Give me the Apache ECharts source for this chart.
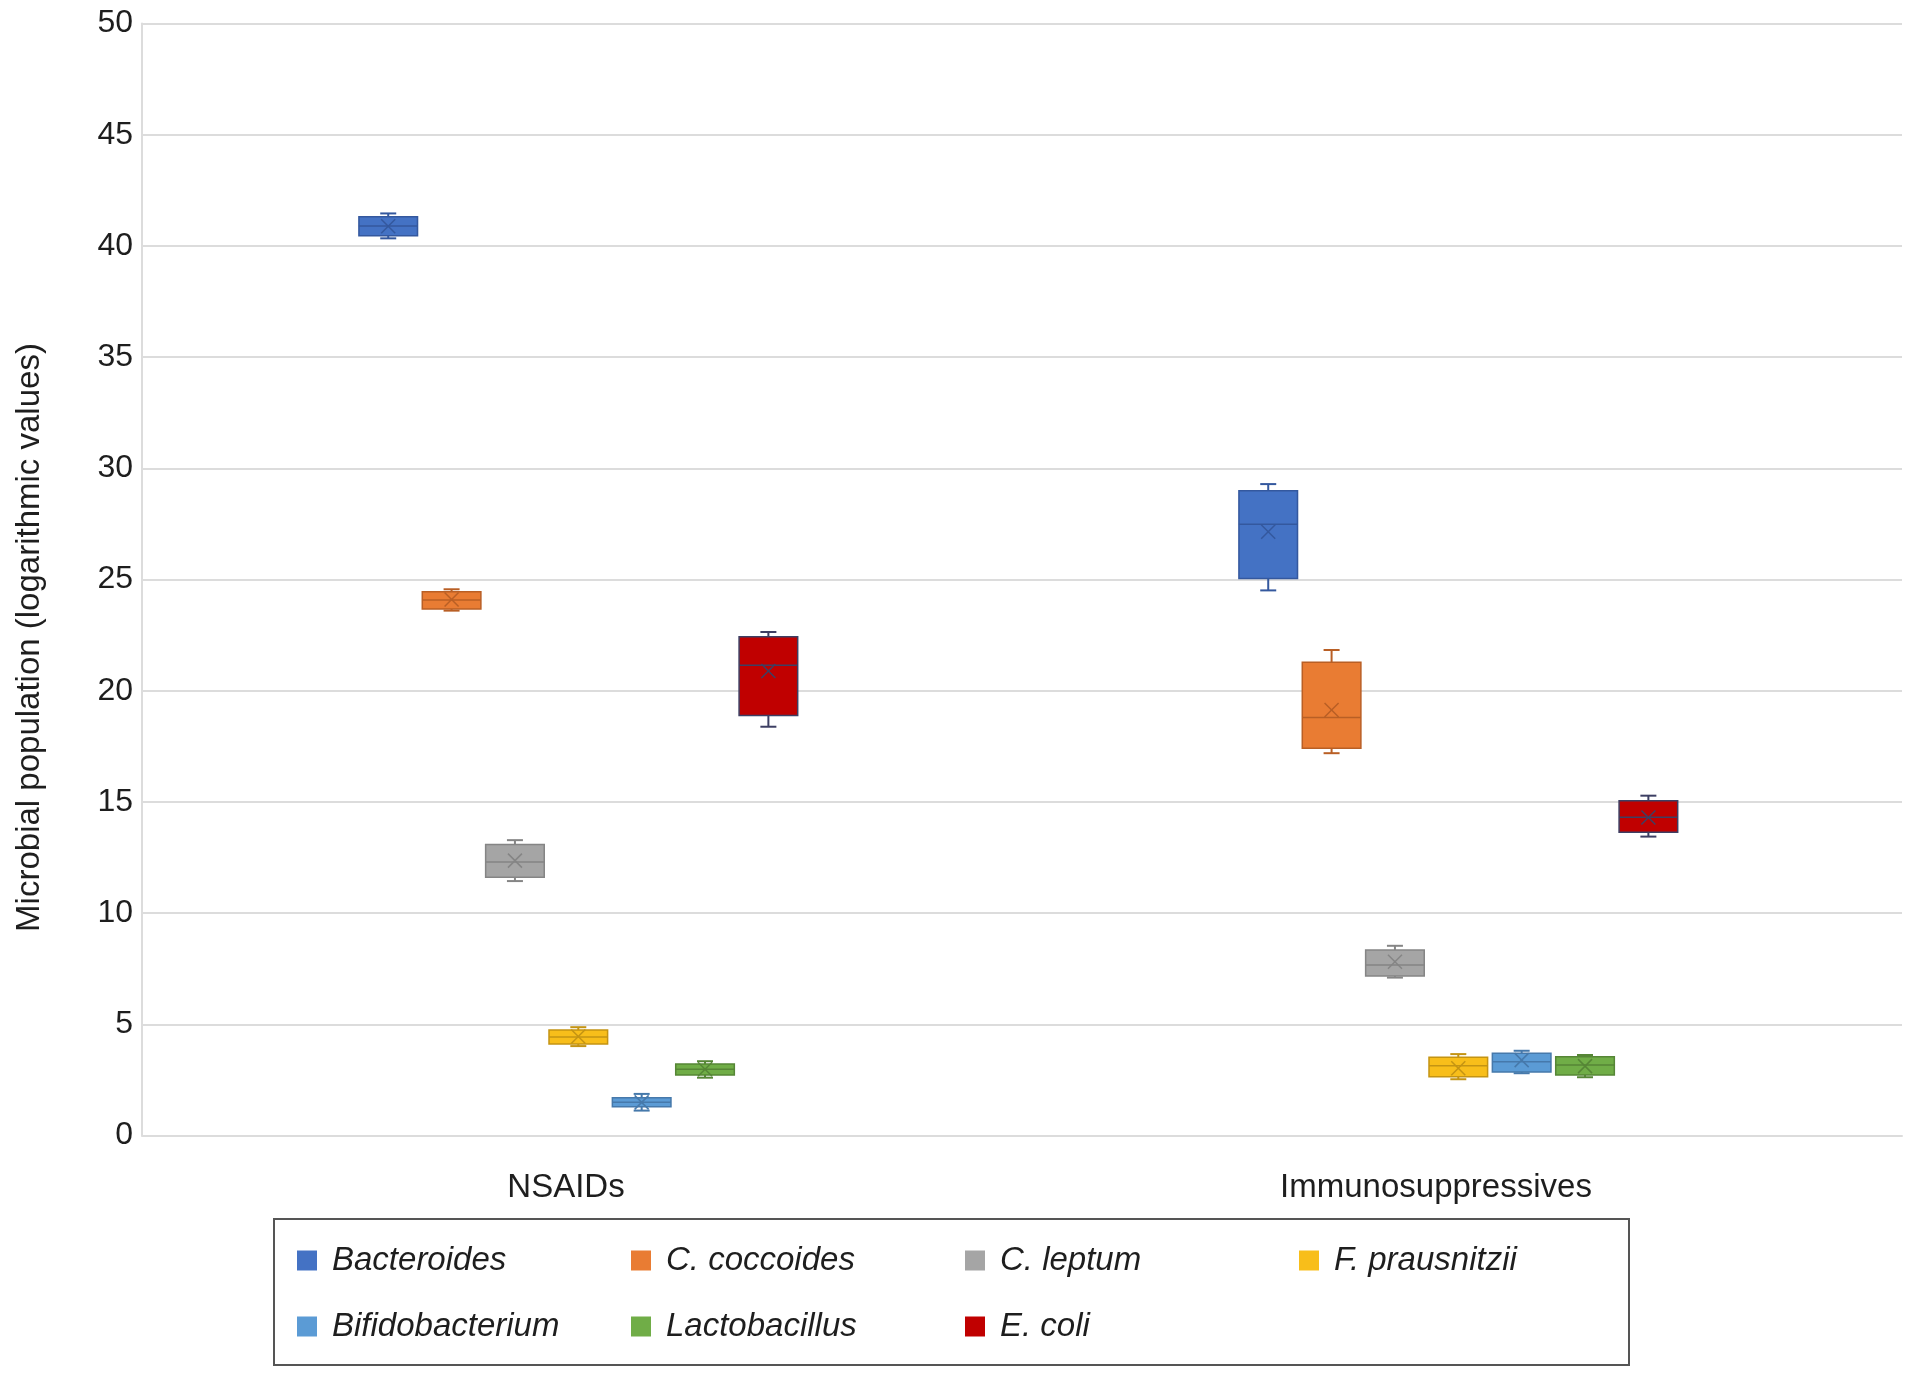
<!DOCTYPE html>
<html>
<head>
<meta charset="utf-8">
<script src="https://cdn.jsdelivr.net/npm/echarts@6/dist/echarts.min.js"></script>
<style>html,body{margin:0;padding:0;background:#fff}#c{width:1913px;height:1378px}</style>
</head>
<body>
<div id="c"></div>
<script>
// ---- data ----
const categories = ['NSAIDs', 'Immunosuppressives'];
const speciesNames = ['Bacteroides', 'C. coccoides', 'C. leptum', 'F. prausnitzii', 'Bifidobacterium', 'Lactobacillus', 'E. coli'];
const yMin = 0, yMax = 50, yInterval = 5;
// each row: [min, Q1, median, Q3, max, mean]; one row per category
const bacteroides     = [[40.34, 40.46, 40.90, 41.31, 41.46, 40.88], [24.51, 25.05, 27.48, 28.99, 29.29, 27.15]];
const cCoccoides      = [[23.60, 23.67, 24.08, 24.45, 24.56, 24.10], [17.19, 17.41, 18.79, 21.28, 21.83, 19.13]];
const cLeptum         = [[11.44, 11.61, 12.30, 13.08, 13.28, 12.36], [7.10, 7.17, 7.67, 8.34, 8.53, 7.81]];
const fPrausnitzii    = [[4.02, 4.11, 4.43, 4.74, 4.87, 4.45], [2.53, 2.64, 3.14, 3.52, 3.66, 3.02]];
const bifidobacterium = [[1.12, 1.29, 1.49, 1.70, 1.87, 1.49], [2.80, 2.86, 3.32, 3.70, 3.81, 3.39]];
const lactobacillus   = [[2.60, 2.72, 2.98, 3.21, 3.34, 2.98], [2.62, 2.72, 3.17, 3.54, 3.62, 3.12]];
const eColi           = [[18.38, 18.89, 21.14, 22.43, 22.64, 20.89], [13.44, 13.63, 14.31, 15.05, 15.28, 14.30]];
const seriesValues = [bacteroides, cCoccoides, cLeptum, fPrausnitzii, bifidobacterium, lactobacillus, eColi];

// ---- styles ----
const fills   = ['#4472C4', '#E97C33', '#A5A5A5', '#F8BE1A', '#5B9BD5', '#70AD47', '#C00000'];
const strokes = ['#34589e', '#b95f25', '#858585', '#c49413', '#4679ab', '#568636', '#3d3f63'];
const FONT = '"Liberation Sans", Arial, Helvetica, sans-serif';
const TXT = '#1e1e1e';
const GRIDC = '#dcdcdc';

function makeRender(k, stroke) {
  return function (params, api) {
    const ci = api.value(0);
    const band = api.size([1, 0])[0];
    const cx = api.coord([ci, 0])[0] + ((k - 3) * 0.072 - 0.0042) * band;
    const py = i => api.coord([ci, api.value(i)])[1];
    const pMin = py(1), pQ1 = py(2), pMed = py(3), pQ3 = py(4), pMax = py(5), pMean = py(6);
    const hw = band * 0.0333, cap = 8, xs = 7;
    const ls = { stroke: stroke, lineWidth: 2 };
    const ts = { stroke: stroke, lineWidth: 1.5 };
    return {
      type: 'group',
      children: [
        { type: 'line', shape: { x1: cx, y1: pMax, x2: cx, y2: pQ3 }, style: ls },
        { type: 'line', shape: { x1: cx, y1: pQ1, x2: cx, y2: pMin }, style: ls },
        { type: 'line', shape: { x1: cx - cap, y1: pMax, x2: cx + cap, y2: pMax }, style: ls },
        { type: 'line', shape: { x1: cx - cap, y1: pMin, x2: cx + cap, y2: pMin }, style: ls },
        { type: 'rect', shape: { x: cx - hw, y: pQ3, width: 2 * hw, height: pQ1 - pQ3 }, style: { fill: api.visual('color'), stroke: stroke, lineWidth: 1.5 } },
        { type: 'line', shape: { x1: cx - hw, y1: pMed, x2: cx + hw, y2: pMed }, style: ts },
        { type: 'line', shape: { x1: cx - xs, y1: pMean - xs, x2: cx + xs, y2: pMean + xs }, style: ts },
        { type: 'line', shape: { x1: cx - xs, y1: pMean + xs, x2: cx + xs, y2: pMean - xs }, style: ts }
      ]
    };
  };
}

const labelPadRight = [32, 52];

const option = {
  backgroundColor: '#ffffff',
  animation: false,
  textStyle: { fontFamily: FONT },
  grid: { left: 142, right: 11, top: 23.5, bottom: 242.5, containLabel: false, outerBoundsMode: 'none' },
  xAxis: {
    type: 'category',
    data: categories.map((c, i) => ({ value: c, textStyle: { padding: [0, labelPadRight[i], 0, 0] } })),
    boundaryGap: true,
    axisLine: { show: true, lineStyle: { color: GRIDC, width: 2 } },
    axisTick: { show: false },
    axisLabel: { color: TXT, fontSize: 33, fontFamily: FONT, margin: 36 },
    splitLine: { show: false }
  },
  yAxis: {
    type: 'value',
    min: yMin, max: yMax, interval: yInterval,
    name: 'Microbial population (logarithmic values)',
    nameLocation: 'middle',
    nameGap: 96,
    nameTextStyle: { color: TXT, fontSize: 33, fontFamily: FONT, padding: [0, 116, 0, 0] },
    axisLine: { show: true, lineStyle: { color: GRIDC, width: 2 } },
    axisTick: { show: false },
    axisLabel: { color: TXT, fontSize: 32, fontFamily: FONT, margin: 9 },
    splitLine: { show: true, lineStyle: { color: GRIDC, width: 2 } }
  },
  legend: {
    show: true,
    orient: 'horizontal',
    left: 274, top: 1219,
    width: 1310,
    padding: [25, 29, 22, 23],
    itemWidth: 20, itemHeight: 20,
    itemGap: 33,
    icon: 'rect',
    borderColor: '#555555', borderWidth: 2, borderRadius: 0,
    backgroundColor: 'transparent',
    data: speciesNames,
    textStyle: { color: TXT, fontSize: 33, fontStyle: 'italic', fontFamily: FONT, lineHeight: 30, width: 266, padding: [0, 0, 0, 10] },
    selectedMode: true
  },
  series: speciesNames.map((name, k) => ({
    name: name,
    type: 'custom',
    renderItem: makeRender(k, strokes[k]),
    itemStyle: { color: fills[k] },
    encode: { x: 0, y: [1, 2, 3, 4, 5, 6] },
    data: seriesValues[k].map((row, ci) => [ci].concat(row)),
    z: 3
  }))
};

const chart = echarts.init(document.getElementById('c'), null, { renderer: 'canvas' });
chart.setOption(option);
</script>
</body>
</html>
